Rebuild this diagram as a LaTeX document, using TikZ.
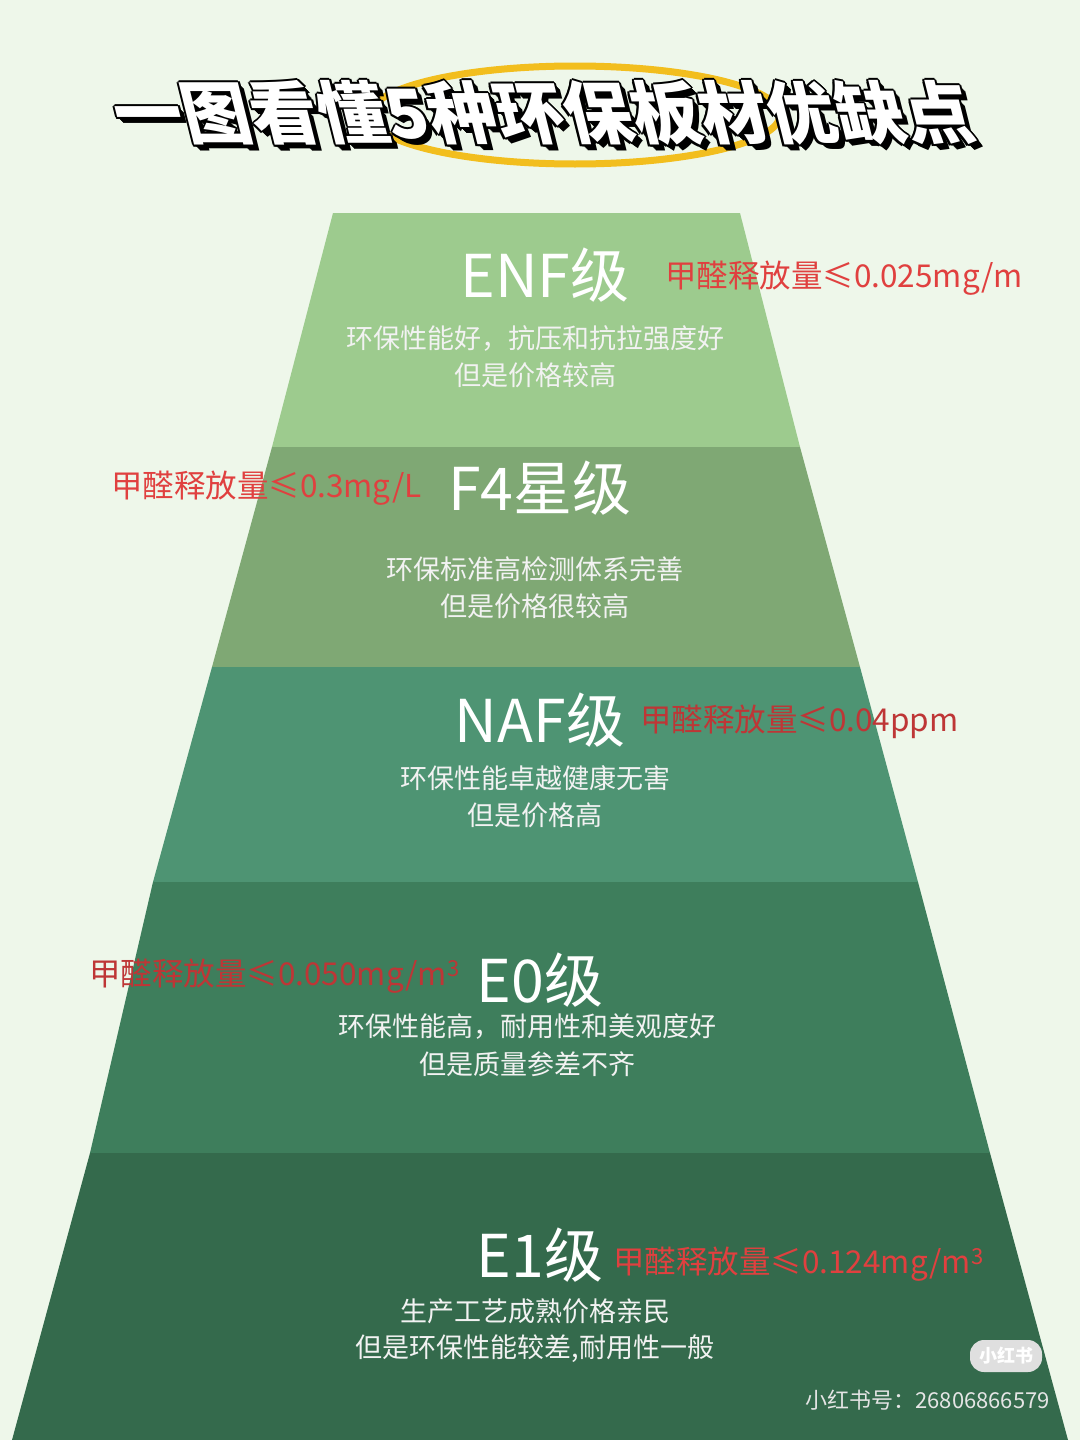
\documentclass[tikz,border=0pt]{standalone}
\usepackage{fontspec}
\setmainfont{Noto Sans CJK SC}
\newfontfamily\cjk{Noto Sans CJK SC}
\usetikzlibrary{shapes.geometric}
\definecolor{bg}{HTML}{EEF7EA}
\definecolor{cA}{HTML}{9DCB8E}
\definecolor{cB}{HTML}{7FA874}
\definecolor{cC}{HTML}{4E9473}
\definecolor{cD}{HTML}{3E7E5C}
\definecolor{cE}{HTML}{346A4C}
\definecolor{red}{HTML}{E0403F}
\definecolor{yel}{HTML}{F2BE1E}
\begin{document}
\begin{tikzpicture}[x=1pt,y=-1pt,
  lvl/.style={text=white,font=\cjk\fontsize{59}{60}\selectfont,inner sep=0},
  desc/.style={text=white!95!black,font=\cjk\fontsize{27}{29}\selectfont,inner sep=0},
  redl/.style={text=red,font=\cjk\fontsize{31.5}{33}\selectfont,inner sep=0},
  ttl/.style={font=\cjk\bfseries\fontsize{68}{70}\selectfont,inner sep=0,xslant=-0.25}]
\fill[bg] (0,0) rectangle (1080,1440);
\useasboundingbox (0,0) rectangle (1080,1440);
% pyramid
\fill[cA] (333,213) -- (740,213) -- (800,447) -- (272,447) -- cycle;
\fill[cB] (272,447) -- (800,447) -- (860,667) -- (212,667) -- cycle;
\fill[cC] (212,667) -- (860,667) -- (918,882) -- (153,882) -- cycle;
\fill[cD] (153,882) -- (918,882) -- (990,1153) -- (90,1153) -- cycle;
\fill[cE] (90,1153) -- (990,1153) -- (1068,1440) -- (12,1440) -- cycle;
% title
\draw[yel,line width=7pt] (575,115) ellipse [x radius=205, y radius=49];
\foreach \dx/\dy in {6/6,5/5,4/4,3/3,-2/0,2/0,0/-2,0/2,-1.5/-1.5,1.5/1.5,-1.5/1.5,1.5/-1.5}
  \node[ttl,text=black] at (543+\dx,113+\dy) {一图看懂5种环保板材优缺点};
\node[ttl,text=white] (title) at (543,113) {一图看懂5种环保板材优缺点};
% level 1
\node[lvl] (l1) at (545,275) {ENF级};
\node[redl,anchor=west] (r1) at (665,278) {甲醛释放量≤0.025mg/m};
\node[desc] (d1a) at (535,338) {环保性能好，抗压和抗拉强度好};
\node[desc] (d1b) at (535,375) {但是价格较高};
% level 2
\node[lvl] (l2) at (540,488) {F4星级};
\node[redl,anchor=east] (r2) at (422,488) {甲醛释放量≤0.3mg/L};
\node[desc] (d2a) at (535,569) {环保标准高检测体系完善};
\node[desc] (d2b) at (535,606) {但是价格很较高};
% level 3
\node[lvl] (l3) at (540,720) {NAF级};
\node[redl,anchor=west,text=red!85!black] (r3) at (640,722) {甲醛释放量≤0.04ppm};
\node[desc] (d3a) at (535,778) {环保性能卓越健康无害};
\node[desc] (d3b) at (535,815) {但是价格高};
% level 4
\node[lvl] (l4) at (540,980) {E0级};
\node[redl,anchor=east,text=red!85!black] (r4) at (460,976) {甲醛释放量≤0.050mg/m\textsuperscript{3}};
\node[desc] (d4a) at (527,1027) {环保性能高，耐用性和美观度好};
\node[desc] (d4b) at (527,1064) {但是质量参差不齐};
% level 5
\node[lvl] (l5) at (540,1255) {E1级};
\node[redl,anchor=west] (r5) at (613,1264) {甲醛释放量≤0.124mg/m\textsuperscript{3}};
\node[desc] (d5a) at (535,1311) {生产工艺成熟价格亲民};
\node[desc] (d5b) at (535,1349) {但是环保性能较差,耐用性一般};
% watermark
\node[fill=white!75!gray,rounded corners=14pt,text=white,font=\cjk\bfseries\fontsize{18}{20}\selectfont,minimum width=72,minimum height=32] (logo) at (1006,1356) {小红书};
\node[text=white!80!gray,font=\fontsize{22}{24}\selectfont,anchor=east,inner sep=0] (wm) at (1050,1400) {小红书号：26806866579};
\end{tikzpicture}
\end{document}
